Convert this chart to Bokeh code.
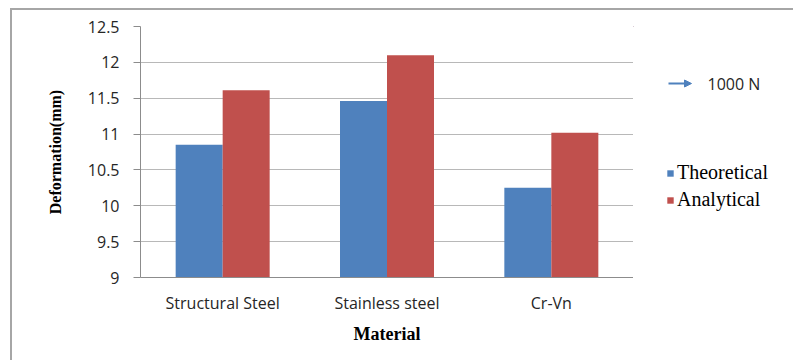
from bokeh.plotting import figure
from bokeh.layouts import row
from bokeh.models import (FactorRange, Range1d, ColumnDataSource, Legend, LegendItem,
                          FixedTicker, Label, Arrow, NormalHead)
from bokeh.transform import dodge
from bokeh.embed import file_html
from bokeh.resources import INLINE

materials = ["Structural Steel", "Stainless steel", "Cr-Vn"]
theoretical = [10.85, 11.46, 10.25]
analytical = [11.61, 12.10, 11.02]
y_ticks = [9, 9.5, 10, 10.5, 11, 11.5, 12, 12.5]
tick_labels = {9: "9", 9.5: "9.5", 10: "10", 10.5: "10.5", 11: "11", 11.5: "11.5", 12: "12", 12.5: "12.5"}
series_names = ["Theoretical", "Analytical"]
load_label = "1000 N"

BLUE = "#4F81BD"
RED = "#C0504D"
BORDER = "#a6a6a6"

src = ColumnDataSource(dict(m=materials, t=theoretical, a=analytical))

# ---------------- main chart ----------------
p = figure(width=633, height=360, x_range=FactorRange(*materials), y_range=Range1d(9, 12.5),
           output_backend="svg", toolbar_location=None,
           min_border_left=140, min_border_right=0, min_border_top=26, min_border_bottom=83)
p.outline_line_color = None
p.background_fill_color = "white"
p.border_fill_color = None

bw = 0.286
rt = p.vbar(x=dodge("m", -bw / 2, range=p.x_range), top="t", bottom=9, width=bw, source=src,
            fill_color=BLUE, line_color=None)
ra = p.vbar(x=dodge("m", bw / 2, range=p.x_range), top="a", bottom=9, width=bw, source=src,
            fill_color=RED, line_color=None)

p.yaxis.ticker = FixedTicker(ticks=y_ticks)
p.yaxis.major_label_overrides = tick_labels
p.yaxis.minor_tick_line_color = None
p.yaxis.major_tick_out = 7
p.yaxis.major_tick_in = 0
p.yaxis.major_label_standoff = 14
p.yaxis.axis_line_color = "#8c8c8c"
p.yaxis.major_tick_line_color = "#8c8c8c"
p.yaxis.major_label_text_font = "Open Sans"
p.yaxis.major_label_text_font_size = "16px"
p.yaxis.major_label_text_color = "#262626"
p.yaxis.axis_label = "Deformation(mm)"
p.yaxis.axis_label_text_font = "Liberation Serif"
p.yaxis.axis_label_text_font_style = "bold"
p.yaxis.axis_label_text_font_size = "16px"
p.yaxis.axis_label_text_color = "black"
p.yaxis.axis_label_standoff = 21

p.xaxis.major_tick_line_color = None
p.xaxis.major_tick_out = 0
p.xaxis.axis_line_color = "#8c8c8c"
p.xaxis.major_label_standoff = 14
p.xaxis.major_label_text_font = "Open Sans"
p.xaxis.major_label_text_font_size = "16px"
p.xaxis.major_label_text_color = "#262626"
p.xaxis.axis_label = "Material"
p.xaxis.axis_label_text_font = "Liberation Serif"
p.xaxis.axis_label_text_font_style = "bold"
p.xaxis.axis_label_text_font_size = "18px"
p.xaxis.axis_label_text_color = "black"
p.xaxis.axis_label_standoff = 7

p.xgrid.grid_line_color = None
p.ygrid.grid_line_color = "#b8b8b8"
p.ygrid.grid_line_width = 1

# ---------------- legend strip (right) ----------------
# frame spans canvas x 633..793 and y 26..277; ranges chosen so that units are canvas pixels
s = figure(width=160, height=360, x_range=Range1d(633, 793), y_range=Range1d(277, 26),
           output_backend="svg", toolbar_location=None,
           x_axis_location=None, y_axis_location=None,
           min_border_left=0, min_border_right=0, min_border_top=26, min_border_bottom=83)
s.outline_line_color = None
s.background_fill_color = None
s.border_fill_color = None
s.xgrid.visible = False
s.ygrid.visible = False

# legend keys: the same series, placed outside this strip's visible range
key_t = s.vbar(x=0, top="t", bottom=0, width=1, source=src, fill_color=BLUE, line_color=None)
key_a = s.vbar(x=0, top="a", bottom=0, width=1, source=src, fill_color=RED, line_color=None)

legend_b = Legend(items=[LegendItem(label=series_names[0], renderers=[key_t], index=0),
                         LegendItem(label=series_names[1], renderers=[key_a], index=0)],
                  location=(33, 66), orientation="vertical",
                  glyph_width=8, glyph_height=8, label_standoff=3,
                  label_height=21, spacing=4, padding=0, margin=0,
                  border_line_color=None, background_fill_alpha=0,
                  label_text_font="Liberation Serif", label_text_font_size="20px",
                  label_text_color="black")
s.add_layout(legend_b, "center")

s.add_layout(Arrow(x_start=668, y_start=83, x_end=691, y_end=83,
                   line_color=BLUE, line_width=2,
                   end=NormalHead(size=7, fill_color=BLUE, line_color=BLUE, line_width=1)))
s.add_layout(Label(x=707, y=83, text=load_label, text_font="Open Sans", text_font_size="16px",
                   text_color="#262626", text_baseline="middle", text_align="left"))

layout = row(p, s, spacing=0)
# outer chart border (top and left edges of the chart area)
layout.styles = {
    "background": (f"linear-gradient({BORDER},{BORDER}) 10px 8px / 2px 360px no-repeat, "
                   f"linear-gradient({BORDER},{BORDER}) 10px 8px / 790px 2px no-repeat, white")
}

open("out.html", "w").write(file_html(layout, INLINE))
